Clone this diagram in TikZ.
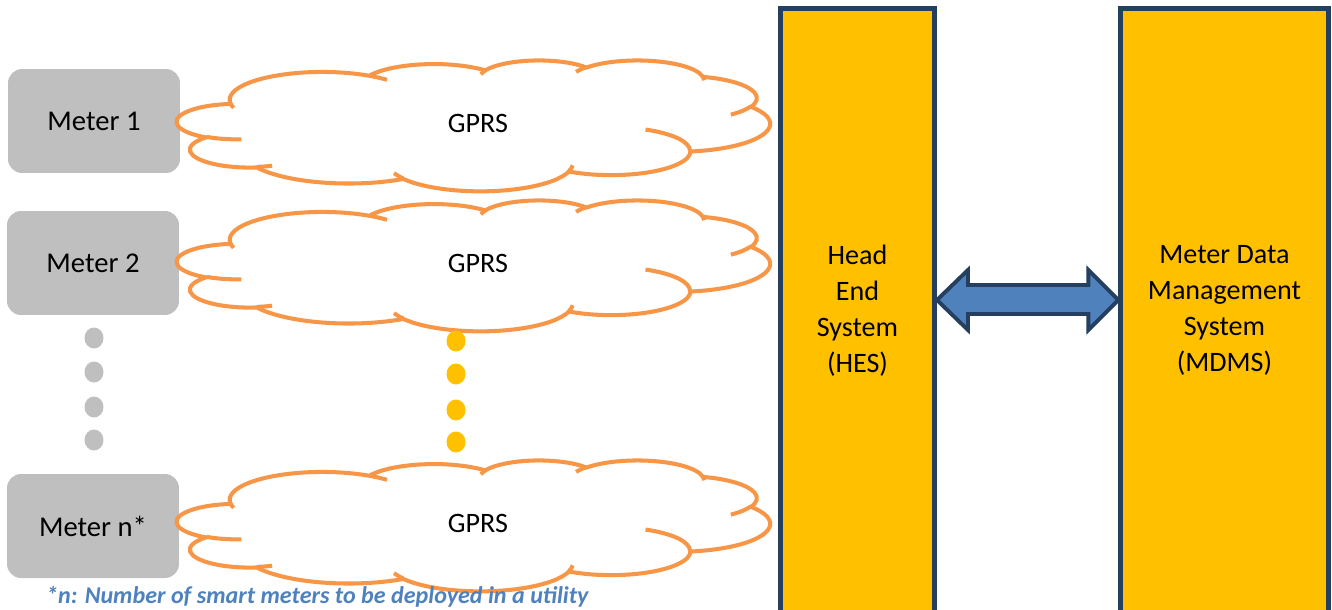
\documentclass[tikz,border=0pt]{standalone}
\usepackage{fontspec}
\setmainfont{Carlito}
\usetikzlibrary{calc}

\definecolor{meterGray}{HTML}{BFBFBF}
\definecolor{cloudOrange}{HTML}{F79646}
\definecolor{sysYellow}{HTML}{FFC000}
\definecolor{sysNavy}{HTML}{243F60}
\definecolor{linkBlue}{HTML}{4F81BD}

\tikzset{
  meterbox/.style={fill=meterGray, rounded corners=0.28cm, minimum width=3.44cm,
    minimum height=2.08cm, font=\fontsize{16.3}{20}\selectfont},
  cloudline/.style={draw=cloudOrange, line width=2.3pt},
  sysbox/.style={draw=sysNavy, fill=sysYellow, line width=2.8pt, align=center,
    font=\fontsize{16}{20.5}\selectfont},
  duplex/.style={draw=sysNavy, fill=linkBlue, line width=2.2pt, line join=miter},
  dotgray/.style={fill=meterGray},
  dotyellow/.style={fill=sysYellow},
}

\begin{document}
\begin{tikzpicture}[x=0.02cm, y=-0.02cm]
\useasboundingbox (0,0) rectangle (1332,609);

% meters
\node[meterbox] (m1) at (94,121) {Meter 1};
\node[meterbox] (m2) at (93,263) {Meter 2};
\node[meterbox] (mn) at (93,526) {Meter n*};

% clouds
\foreach \n/\ty in {1/60, 2/200, 3/460} {
  \begin{scope}[shift={(177,\ty)}, x=0.00028194cm, y=-0.00005648cm]
    \filldraw[cloudline, fill=white] (3900,14370)
      \foreach \wr/\hr/\st/\sw [evaluate=\st as \ts using {atan2(\wr*sin(\st),\hr*cos(\st))},
        evaluate=\st as \dt using {mod(atan2(\wr*sin(\st+\sw),\hr*cos(\st+\sw))-atan2(\wr*sin(\st),\hr*cos(\st))+720,360)}]
      in {6753/9190/-190.4875/123.7805, 5333/7267/-144.1024/89.9452,
          4365/5945/-145.8079/99.7230, 4857/6595/-130.9861/117.2417,
          5333/7273/-78.7089/109.0269, 6775/9220/-46.2673/130.2690,
          5785/7867/0.6250/114.0333, 6752/9215/22.4516/115.1726,
          7720/10543/66.2426/75.7110, 4360/5918/-274.9421/146.7356,
          4345/5945/-246.8285/152.5189}
      { arc[start angle=\ts, delta angle=\dt, x radius=\wr, y radius=\hr] } -- cycle;
    \draw[cloudline]
      \foreach \px/\py/\wr/\hr/\st/\sw [evaluate=\st as \ts using {atan2(\wr*sin(\st),\hr*cos(\st))},
        evaluate=\st as \dt using {mod(atan2(\wr*sin(\st+\sw),\hr*cos(\st+\sw))-atan2(\wr*sin(\st),\hr*cos(\st))+720,360)}]
      in {4693/26177/4345/5945/86.7420/26.4295, 6928/34899/4360/5918/73.6105/11.4475,
          16478/39090/6752/9215/137.6242/14.0811, 28827/34751/6752/9215/6.4533/15.9984,
          34129/22954/5785/7867/-70.2924/70.9174, 41798/15354/5333/7273/30.3180/27.7515,
          38324/5426/4857/6595/-13.7443/14.8589, 29078/3952/4857/6595/-149.1815/18.1954,
          22141/4720/4365/5945/-163.4943/17.6864, 14000/5192/6753/9190/-66.7070/12.3194,
          4127/15789/6753/9190/157.6544/11.8582}
      { (\px,\py) arc[start angle=\ts, delta angle=\dt, x radius=\wr, y radius=\hr] };
  \end{scope}
  \node[font=\fontsize{16}{20}\selectfont] (gprs\n) at (478,\ty+63) {GPRS};
}

% dots
\foreach \y in {338, 372, 407, 440} {
  \fill[dotgray] (94,\y) ellipse [x radius=9.5, y radius=10.5];
}
\foreach \y in {341, 374, 410, 442} {
  \fill[dotyellow] (456,\y) ellipse [x radius=9.5, y radius=10.5];
}

% systems
\node[sysbox, minimum width=3.08cm, minimum height=12.09cm] (hes) at (857.5,310.75)
  {Head\\End\\System\\(HES)};
\node[sysbox, minimum width=4.15cm, minimum height=12.09cm] (mdms) at (1224.5,310.75)
  {Meter Data\\Management\\System\\(MDMS)};

% link
\coordinate (tipL) at (hes.east |- 0,300);
\coordinate (tipR) at (mdms.west |- 0,300);
\draw[duplex] (tipL) -- ++(31,-30) -- ++(0,15) -- ($(tipR)+(-30,-15)$) -- ++(0,-15)
  -- (tipR) -- ++(-30,30) -- ++(0,-16) -- ($(tipL)+(31,14)$) -- ++(0,16) -- cycle;

% footnote
\node[anchor=west, text=linkBlue, font=\fontsize{13.7}{16}\selectfont\bfseries\itshape]
  (note) at (40,597) {*n: Number of smart meters to be deployed in a utility};
\end{tikzpicture}
\end{document}
